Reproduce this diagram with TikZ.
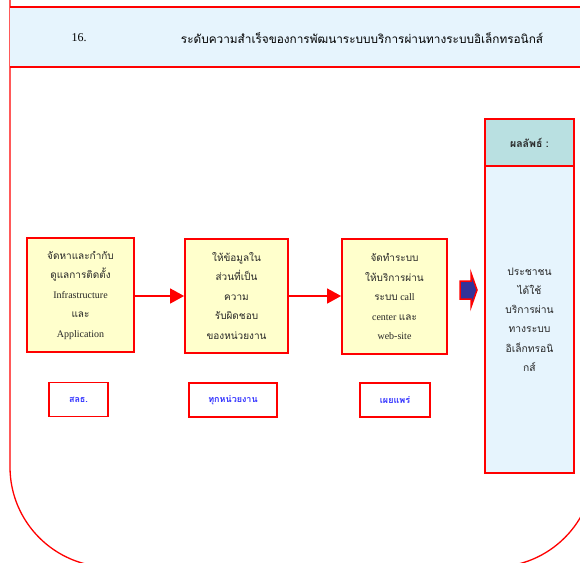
\documentclass[tikz,border=0pt]{standalone}
\usepackage{fontspec}
\setmainfont{Liberation Serif}
\newfontfamily\thai[Script=Thai]{Loma}
\usetikzlibrary{arrows.meta}
\definecolor{frame}{HTML}{FF0000}
\definecolor{paleblue}{HTML}{E6F4FD}
\definecolor{paleyellow}{HTML}{FFFFCC}
\definecolor{teal}{HTML}{B9E0E1}
\definecolor{labelblue}{HTML}{3333FF}
\definecolor{navy}{HTML}{333399}
\tikzset{
  stepbox/.style={draw=frame, line width=1.8pt, fill=paleyellow, align=center,
    inner sep=2pt, font=\fontsize{10}{19.5}\selectfont, text=black!85},
  tagbox/.style={draw=frame, line width=1.8pt, fill=white, align=center,
    font=\fontsize{9}{11}\selectfont\bfseries, text=labelblue},
  flow/.style={draw=frame, line width=1.4pt, -{Triangle[length=14pt,width=15pt]}},
}
\begin{document}
\begin{tikzpicture}[x=1pt,y=-1pt]
\useasboundingbox (0,0) rectangle (580,562);
\begin{scope}
  \clip (0,0) rectangle (580,562);
  % outer rounded frame
  \draw[frame, line width=1.3pt, rounded corners=100pt] (10,-200) rectangle (594,567);
  % title band
  \fill[paleblue] (10,7) rectangle (590,67);
  \draw[frame, line width=1.8pt] (10,7) -- (590,7) (10,67) -- (590,67);
\end{scope}
\node (num) at (79,38) {\fontsize{12}{14}\selectfont 16.};
\node (title) at (362,38) {\thai\fontsize{11.8}{14}\selectfont ระดับความสำเร็จของการพัฒนาระบบบริการผ่านทางระบบอิเล็กทรอนิกส์};

% process steps
\node[stepbox, minimum width=107pt, minimum height=114pt] (s1) at (80.5,295)
  {{\thai จัดหาและกำกับ}\\{\thai ดูแลการติดตั้ง}\\Infrastructure\\{\thai และ}\\Application};
\node[stepbox, minimum width=103pt, minimum height=114pt] (s2) at (236.5,296)
  {\thai ให้ข้อมูลใน\\\thai ส่วนที่เป็น\\\thai ความ\\\thai รับผิดชอบ\\\thai ของหน่วยงาน};
\node[stepbox, minimum width=105pt, minimum height=115pt] (s3) at (394.5,296.5)
  {{\thai จัดทำระบบ}\\{\thai ให้บริการผ่าน}\\{\thai ระบบ} call\\center {\thai และ}\\web-site};
\draw[flow] (s1.east |- 0,296) -- (s2.west |- 0,296);
\draw[flow] (s2.east |- 0,296) -- (s3.west |- 0,296);

% responsible units
\node[tagbox, minimum width=59pt, minimum height=34pt] (t1) at (78.5,399.5) {\thai สลธ.};
\node[tagbox, minimum width=88pt, minimum height=34pt] (t2) at (233,400) {\thai ทุกหน่วยงาน};
\node[tagbox, minimum width=70pt, minimum height=34pt] (t3) at (395,400) {\thai เผยแพร่};

% block arrow towards the outcome
\filldraw[draw=frame, fill=navy, line width=1.5pt]
  (460,281) -- (471,281) -- (471,273) -- (477,290) -- (471,307) -- (471,299) -- (460,299) -- cycle;

% outcome column
\node[draw=frame, line width=1.8pt, fill=paleblue, minimum width=89pt, minimum height=307pt,
  align=center, font=\thai\fontsize{10.3}{19.2}\selectfont, text=black!85] (out) at (529.5,319.5)
  {ประชาชน\\ได้ใช้\\บริการผ่าน\\ทางระบบ\\อิเล็กทรอนิ\\กส์};
\node[draw=frame, line width=1.8pt, fill=teal, minimum width=89pt, minimum height=47pt,
  font=\thai\fontsize{10.5}{12}\selectfont\bfseries, text=black!85] (outhead) at (529.5,142.5) {ผลลัพธ์ :};
\end{tikzpicture}
\end{document}
